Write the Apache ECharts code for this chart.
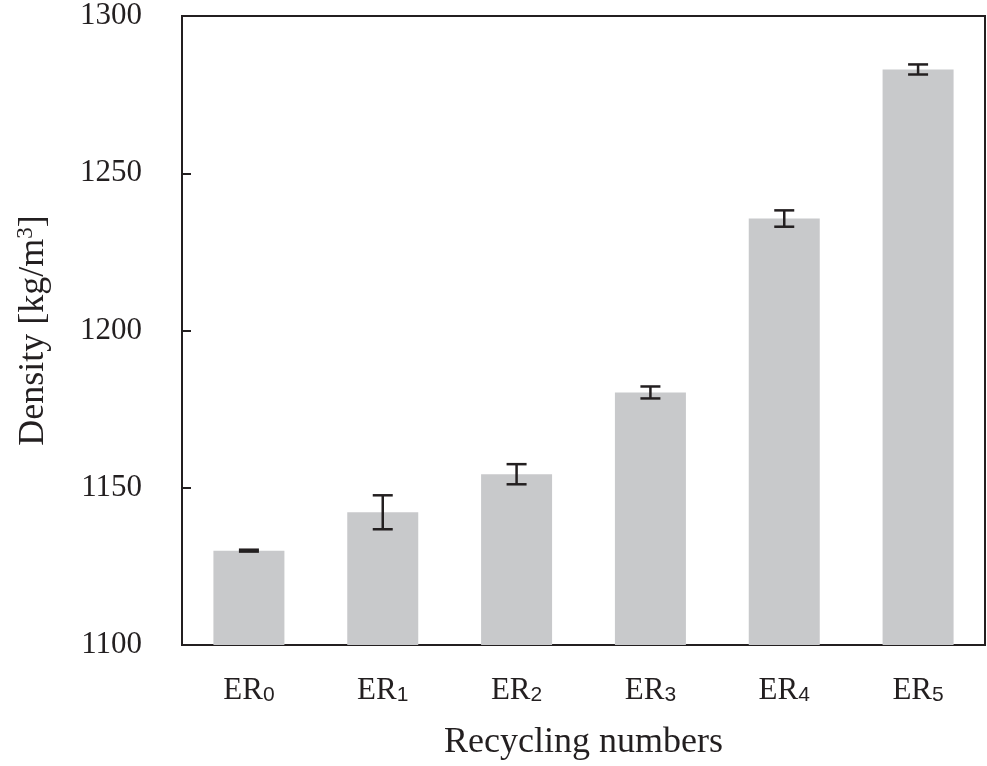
<!DOCTYPE html>
<html>
<head>
<meta charset="utf-8">
<script src="https://cdn.jsdelivr.net/npm/echarts@6/dist/echarts.min.js"></script>
<style>
html,body{margin:0;padding:0;background:#fff;}
#c{width:987px;height:766px;}
</style>
</head>
<body>
<div id="c"></div>
<script>
const categories = ['ER0', 'ER1', 'ER2', 'ER3', 'ER4', 'ER5'];
const densityValues = [1130.0, 1142.2, 1154.3, 1180.3, 1235.6, 1283.0];
const densityErrors = [0.3, 5.4, 3.2, 1.9, 2.6, 1.6];
const yTicks = [1100, 1150, 1200, 1250, 1300];

const ink = '#231f20';
const serif = '"Liberation Serif", "Times New Roman", serif';
const sans = '"Liberation Sans", Arial, sans-serif';

const chart = echarts.init(document.getElementById('c'), null, {renderer: 'canvas'});

const errData = categories.map((c, i) => [i, densityValues[i], densityErrors[i]]);

chart.setOption({
  animation: false,
  backgroundColor: '#fff',
  grid: {
    left: 182, right: 2, top: 16, bottom: 111,
    show: true, borderColor: ink, borderWidth: 2, backgroundColor: 'transparent'
  },
  xAxis: {
    type: 'category',
    data: categories,
    axisLine: {show: true, lineStyle: {color: ink, width: 2}},
    axisTick: {show: false},
    axisLabel: {
      margin: 25,
      formatter: v => '{a|' + v.slice(0, 2) + '}{b|' + v.slice(2) + '}',
      rich: {
        a: {fontFamily: serif, fontSize: 31, color: ink, lineHeight: 36, verticalAlign: 'bottom'},
        b: {fontFamily: sans, fontSize: 21, color: ink, lineHeight: 29, verticalAlign: 'bottom'}
      }
    },
    name: 'Recycling numbers',
    nameLocation: 'middle',
    nameGap: 80,
    nameTextStyle: {fontFamily: serif, fontSize: 36, color: ink}
  },
  yAxis: {
    type: 'value',
    min: yTicks[0],
    max: yTicks[yTicks.length - 1],
    interval: yTicks[1] - yTicks[0],
    splitLine: {show: false},
    axisLine: {show: true, lineStyle: {color: ink, width: 2}},
    axisTick: {show: true, inside: true, length: 9, lineStyle: {color: ink, width: 2}},
    axisLabel: {margin: 40, fontFamily: serif, fontSize: 31, color: ink, formatter: v => String(v)},
    name: '{a|Density [kg/m}{s|3}{a|]}',
    nameLocation: 'middle',
    nameGap: 128,
    nameRotate: 90,
    nameTextStyle: {
      rich: {
        a: {fontFamily: serif, fontSize: 36, color: ink, lineHeight: 40, verticalAlign: 'middle'},
        s: {fontFamily: serif, fontSize: 23, color: ink, lineHeight: 24, verticalAlign: 'top'}
      }
    }
  },
  series: [
    {
      type: 'bar',
      data: densityValues,
      barWidth: 71,
      itemStyle: {color: '#c8c9cb'},
      z: 2
    },
    {
      type: 'custom',
      data: errData,
      z: 5,
      renderItem: function (params, api) {
        const x = api.value(0);
        const v = api.value(1);
        const e = api.value(2);
        const top = api.coord([x, v + e]);
        const bot = api.coord([x, v - e]);
        const hw = 10;
        const st = {stroke: ink, lineWidth: 2.5};
        return {
          type: 'group',
          children: [
            {type: 'line', shape: {x1: top[0], y1: top[1], x2: bot[0], y2: bot[1]}, style: st},
            {type: 'line', shape: {x1: top[0] - hw, y1: top[1], x2: top[0] + hw, y2: top[1]}, style: st},
            {type: 'line', shape: {x1: bot[0] - hw, y1: bot[1], x2: bot[0] + hw, y2: bot[1]}, style: st}
          ]
        };
      }
    }
  ]
});
</script>
</body>
</html>
